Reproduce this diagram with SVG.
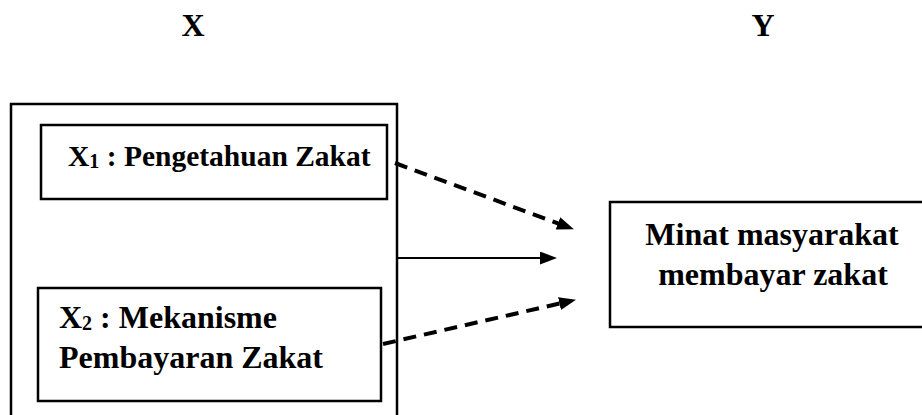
<svg xmlns="http://www.w3.org/2000/svg" width="922" height="415" viewBox="0 0 922 415">
<defs>
<style>
text{font-family:'Liberation Serif','Times New Roman','DejaVu Serif',serif;font-weight:700;fill:#000}
.t{font-size:32px}
.t1{font-size:29.5px}
.sub{font-size:20px}
.box{fill:#fff;stroke:#000;stroke-width:2.5}
.dash{stroke:#000;stroke-width:4;stroke-dasharray:13 8;fill:none}
.solid{stroke:#000;stroke-width:2.2;fill:none}
</style>
<marker id="ah" markerUnits="userSpaceOnUse" markerWidth="18" markerHeight="14" refX="6" refY="6.5" orient="auto">
<path d="M0,0 L17,6.5 L0,13 z" fill="#000"/>
</marker>
</defs>
<rect width="922" height="415" fill="#fff"/>
<g id="title-x"><text class="t" x="193" y="36" text-anchor="middle">X</text></g>
<g id="title-y"><text class="t" x="763" y="36" text-anchor="middle">Y</text></g>
<g id="group-x">
<rect class="box" x="11" y="104" width="386" height="330"/>
</g>
<g id="x1">
<rect class="box" x="41" y="125" width="346" height="74"/>
<text class="t1" x="68" y="166">X<tspan class="sub" dy="2">1</tspan><tspan dy="-2"> : Pengetahuan Zakat</tspan></text>
</g>
<g id="x2">
<rect class="box" x="38" y="288" width="343" height="113"/>
<text class="t" x="59" y="328">X<tspan class="sub" dy="2">2</tspan><tspan dy="-2"> : Mekanisme</tspan></text>
<text class="t" x="59" y="368">Pembayaran Zakat</text>
</g>
<g id="y">
<rect class="box" x="610" y="202" width="330" height="125"/>
<text class="t" x="772" y="245" text-anchor="middle">Minat masyarakat</text>
<text class="t" x="773" y="285" text-anchor="middle">membayar zakat</text>
</g>
<g id="connectors">
<line class="dash" x1="395" y1="163" x2="563.6" y2="225.5" marker-end="url(#ah)"/>
<line class="solid" x1="397" y1="258" x2="546" y2="258" marker-end="url(#ah)"/>
<line class="dash" x1="383" y1="344" x2="565.3" y2="302.2" marker-end="url(#ah)"/>
</g>
</svg>
